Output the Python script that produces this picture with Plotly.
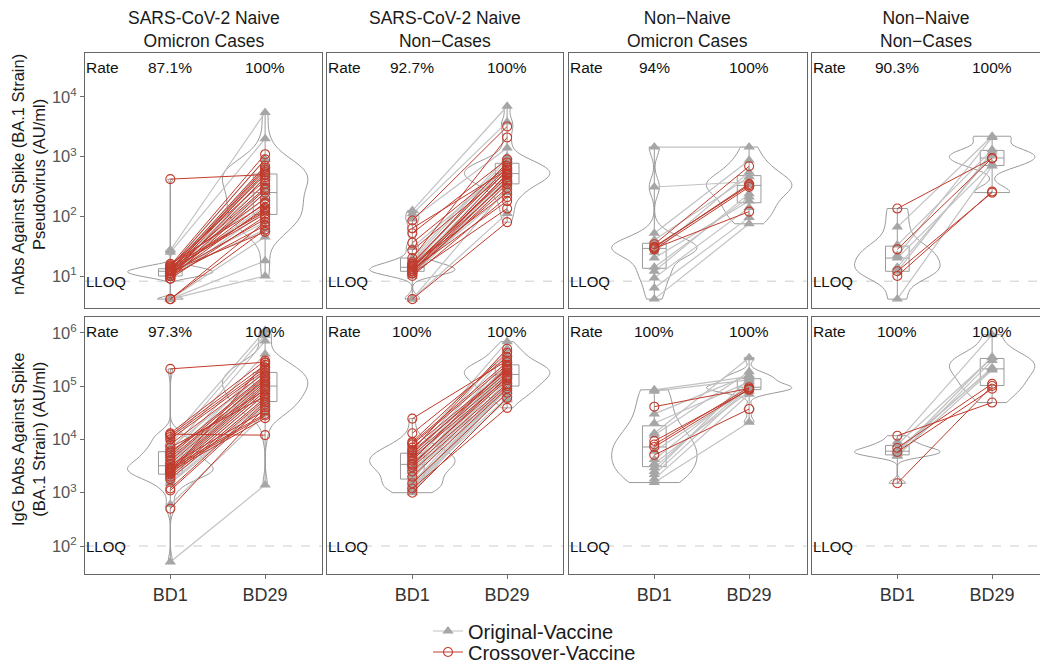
import numpy as np
import plotly.graph_objects as go

# ---------------- data ----------------
COL_TITLES = ["SARS-CoV-2 Naive<br>Omicron Cases", "SARS-CoV-2 Naive<br>Non\u2212Cases",
              "Non\u2212Naive<br>Omicron Cases", "Non\u2212Naive<br>Non\u2212Cases"]
ROW_TITLES = ["nAbs Against Spike (BA.1 Strain)<br>Pseudovirus (AU/ml)",
              "IgG bAbs Against Spike<br>(BA.1 Strain) (AU/ml)"]
TIMEPOINTS = ["BD1", "BD29"]
GROUPS = ["Original-Vaccine", "Crossover-Vaccine"]
LLOQ = [8.2, 100]
RATE_BD1 = [["87.1%", "92.7%", "94%", "90.3%"], ["97.3%", "100%", "100%", "100%"]]
RATE_BD29 = [["100%", "100%", "100%", "100%"], ["100%", "100%", "100%", "100%"]]
YTICKS = [[1, 2, 3, 4], [2, 3, 4, 5, 6]]

# Row 1 (nAbs) -- col 1: naive omicron cases
N1_ORIG_BD1 = [27, 25, 14, 12, 11, 13, 10, 12, 15, 11, 9, 13, 10, 4.1, 4.1, 4.1, 12, 11]
N1_ORIG_BD29 = [5500, 2000, 900, 600, 450, 350, 250, 200, 500, 150, 120, 700, 300, 10, 18, 45, 80, 60]
N1_CROSS_BD1 = [420, 15, 14, 13, 12, 12, 11, 13, 10, 15, 11, 12, 10, 9, 14, 11, 10, 12, 13, 9, 11,
                4.1, 4.1, 10, 12, 14, 16]
N1_CROSS_BD29 = [500, 1100, 900, 700, 650, 600, 550, 500, 450, 400, 350, 300, 280, 250, 200, 170,
                 140, 130, 110, 100, 90, 80, 60, 70, 55, 120, 160]
# col 2: naive non-cases
N2_ORIG_BD1 = [125, 110, 90, 20, 15, 14, 12, 13, 11, 16, 10, 4.1, 4.1, 12, 18, 30, 13, 11]
N2_ORIG_BD29 = [7000, 3800, 1400, 1000, 800, 600, 520, 450, 400, 700, 350, 300, 112, 250, 900, 650, 500, 420]
N2_CROSS_BD1 = [85, 63, 52, 36, 27, 20, 16, 15, 14, 13, 12, 11, 12, 10, 13, 11, 4.1, 15, 14, 17, 12]
N2_CROSS_BD29 = [3200, 600, 900, 700, 550, 2100, 800, 450, 500, 600, 400, 350, 300, 210, 180, 135,
                 80, 250, 380, 650, 520]
# col 3: non-naive omicron cases
N3_ORIG_BD1 = [1450, 310, 52, 40, 14, 9.3, 6.3, 4.1, 30, 25, 12, 20]
N3_ORIG_BD29 = [1450, 380, 870, 460, 210, 140, 96, 75, 340, 550, 240, 180]
N3_CROSS_BD1 = [34, 30, 28, 29, 31]
N3_CROSS_BD29 = [690, 350, 310, 120, 330]
# col 4: non-naive non-cases
N4_ORIG_BD1 = [66, 14, 4.1, 20, 22, 12, 33]
N4_ORIG_BD29 = [2200, 1070, 700, 750, 2100, 1200, 1300]
N4_CROSS_BD1 = [135, 28, 12, 10]
N4_CROSS_BD29 = [930, 950, 250, 260]

# Row 2 (IgG bAbs) -- col 1
G1_ORIG_BD1 = [50, 10000, 8000, 6000, 5000, 4500, 4000, 3500, 3200, 3000, 2800, 2500, 2200, 2000,
               1800, 1600, 1500, 3800, 2600, 600, 5500, 7000]
G1_ORIG_BD29 = [1400, 1100000, 900000, 700000, 400000, 250000, 200000, 150000, 120000, 100000, 90000,
                80000, 70000, 60000, 50000, 45000, 40000, 130000, 110000, 30000, 160000, 180000]
G1_CROSS_BD1 = [210000, 12500, 13000, 12000, 11000, 10000, 8000, 5500, 5000, 4500, 3500, 3000, 2800,
                2600, 2400, 2200, 2000, 1800, 1200, 1100, 500, 3300, 2900, 2700, 2500, 2300, 4000,
                6000, 7000]
G1_CROSS_BD29 = [280000, 12000, 300000, 250000, 220000, 200000, 180000, 160000, 150000, 130000,
                 120000, 110000, 100000, 90000, 80000, 70000, 60000, 55000, 50000, 45000, 40000,
                 35000, 30000, 28000, 25000, 270000, 140000, 85000, 65000]
# col 2
G2_ORIG_BD1 = [6000, 5000, 4500, 4000, 3500, 3000, 2500, 2200, 2000, 1800, 1500, 1300, 1200, 1100,
               1000, 3800, 2800, 1600, 1400, 5500, 4200, 3200]
G2_ORIG_BD29 = [680000, 500000, 400000, 300000, 250000, 220000, 200000, 180000, 160000, 150000,
                130000, 120000, 110000, 100000, 90000, 80000, 70000, 60000, 55000, 230000, 190000,
                170000]
G2_CROSS_BD1 = [24500, 13000, 9000, 8000, 7000, 6300, 6000, 5000, 4500, 4000, 3500, 3000, 2500,
                2000, 1500, 1200, 1000, 8500, 5500, 3300]
G2_CROSS_BD29 = [300000, 350000, 420000, 250000, 200000, 500000, 180000, 160000, 140000, 230000,
                 130000, 110000, 100000, 90000, 75000, 39000, 60000, 280000, 210000, 150000]
# col 3
G3_ORIG_BD1 = [85000, 80000, 13000, 12000, 4200, 2950, 2200, 1550, 20000, 6000, 3500, 1800, 30000, 2500]
G3_ORIG_BD29 = [150000, 130000, 340000, 185000, 110000, 100000, 95000, 21000, 120000, 90000, 80000,
                70000, 160000, 140000]
G3_CROSS_BD1 = [41000, 9300, 7200, 5100, 8000]
G3_CROSS_BD29 = [90000, 85000, 88000, 37000, 95000]
# col 4
G4_ORIG_BD1 = [9000, 8000, 6500, 5500, 5000, 4800, 6000]
G4_ORIG_BD29 = [920000, 340000, 210000, 350000, 200000, 300000, 220000]
G4_CROSS_BD1 = [11700, 6900, 1500, 5800]
G4_CROSS_BD29 = [49000, 110000, 100000, 89000]

PANELS = [
    [(N1_ORIG_BD1, N1_ORIG_BD29, N1_CROSS_BD1, N1_CROSS_BD29),
     (N2_ORIG_BD1, N2_ORIG_BD29, N2_CROSS_BD1, N2_CROSS_BD29),
     (N3_ORIG_BD1, N3_ORIG_BD29, N3_CROSS_BD1, N3_CROSS_BD29),
     (N4_ORIG_BD1, N4_ORIG_BD29, N4_CROSS_BD1, N4_CROSS_BD29)],
    [(G1_ORIG_BD1, G1_ORIG_BD29, G1_CROSS_BD1, G1_CROSS_BD29),
     (G2_ORIG_BD1, G2_ORIG_BD29, G2_CROSS_BD1, G2_CROSS_BD29),
     (G3_ORIG_BD1, G3_ORIG_BD29, G3_CROSS_BD1, G3_CROSS_BD29),
     (G4_ORIG_BD1, G4_ORIG_BD29, G4_CROSS_BD1, G4_CROSS_BD29)],
]

# ---------------- styling / layout ----------------
W, H = 1040, 667
XD = [(85, 322), (327, 563), (569, 806.5), (812, 1040)]
YD = [(53, 308), (317, 574)]
YR = [(0.464, 4.737), (1.475, 6.295)]
PX_PER_UNIT = (322 - 85) / 2.5
GRAY_MK = "#a6a6a6"
GRAY_LN = "#c2c2c2"
RED = "#c23b2c"
OUTLINE = "#9a9a9a"
FONT = "Liberation Sans, Arial, sans-serif"


def nrd0(v):
    v = np.asarray(v, dtype=float)
    n = len(v)
    sd = np.std(v, ddof=1)
    q75, q25 = np.percentile(v, [75, 25])
    lo = min(sd, (q75 - q25) / 1.34)
    if lo <= 0:
        lo = sd if sd > 0 else 1.0
    return 0.9 * lo * n ** -0.2


def segments(b1, b29):
    xs, ys = [], []
    for a, b in zip(b1, b29):
        xs += [0, 1, None]
        ys += [np.log10(a), np.log10(b), None]
    return xs, ys


fig = go.Figure()
layout = {}
annotations = []
shapes = []

for r in range(2):
    for c in range(4):
        k = r * 4 + c + 1
        xa = "x" if k == 1 else f"x{k}"
        ya = "y" if k == 1 else f"y{k}"
        ob1, ob29, cb1, cb29 = PANELS[r][c]
        for t, vals in enumerate([ob1 + cb1, ob29 + cb29]):
            lv = np.log10(np.asarray(vals, dtype=float))
            fig.add_trace(go.Violin(
                x=[t] * len(lv), y=lv, xaxis=xa, yaxis=ya, width=0.9, scalemode="width",
                spanmode="hard", bandwidth=nrd0(lv), line=dict(color=OUTLINE, width=1),
                fillcolor="rgba(0,0,0,0)", points=False, box_visible=False,
                meanline_visible=False, hoverinfo="skip", showlegend=False))
            fig.add_trace(go.Box(
                x=[t] * len(lv), y=lv, xaxis=xa, yaxis=ya, width=0.25, boxpoints=False,
                whiskerwidth=0, quartilemethod="linear", line=dict(color=OUTLINE, width=1),
                fillcolor="rgba(0,0,0,0)", hoverinfo="skip", showlegend=False))
        xs, ys = segments(ob1, ob29)
        fig.add_trace(go.Scatter(
            x=xs, y=ys, xaxis=xa, yaxis=ya, mode="lines+markers", name=GROUPS[0],
            line=dict(color=GRAY_LN, width=1.2),
            marker=dict(symbol="triangle-up", size=10, color=GRAY_MK),
            showlegend=(k == 1), legend="legend", hoverinfo="skip"))
        xs, ys = segments(cb1, cb29)
        fig.add_trace(go.Scatter(
            x=xs, y=ys, xaxis=xa, yaxis=ya, mode="lines+markers", name=GROUPS[1],
            line=dict(color=RED, width=1),
            marker=dict(symbol="circle-open", size=9, color=RED, line=dict(width=1.1, color=RED)),
            showlegend=(k == 1), legend="legend2", hoverinfo="skip"))

        x0, x1 = XD[c]
        xmax = -0.9 + (x1 - x0) / PX_PER_UNIT
        y0, y1 = YD[r]
        bottom = r == 1
        left = c == 0
        layout["xaxis" if k == 1 else f"xaxis{k}"] = dict(
            domain=[x0 / W, x1 / W], range=[-0.9, xmax], anchor=ya,
            tickvals=[0, 1], ticktext=TIMEPOINTS, showticklabels=bottom,
            ticks="outside" if bottom else "", ticklen=4, tickcolor="#6e6e6e",
            tickfont=dict(size=18, color="#333333"),
            showgrid=False, zeroline=False, showline=True, mirror=True,
            linecolor="#666666", linewidth=1)
        layout["yaxis" if k == 1 else f"yaxis{k}"] = dict(
            domain=[1 - y1 / H, 1 - y0 / H], range=list(YR[r]), anchor=xa,
            tickvals=YTICKS[r], ticktext=[f"10<sup>{v}</sup>" for v in YTICKS[r]],
            showticklabels=left, ticks="outside" if left else "", ticklen=4,
            tickcolor="#6e6e6e", tickfont=dict(size=16.5, color="#555555"),
            showgrid=False, zeroline=False, showline=True, mirror=True,
            linecolor="#666666", linewidth=1)

        # LLOQ line and label
        shapes.append(dict(type="line", xref=f"{xa} domain", yref=ya, x0=0, x1=1,
                           y0=np.log10(LLOQ[r]), y1=np.log10(LLOQ[r]),
                           line=dict(color="#cccccc", width=1, dash="dash"), layer="below"))
        annotations.append(dict(text="LLOQ", xref=f"{xa} domain", yref=ya, x=-0.005, y=np.log10(LLOQ[r]),
                                xanchor="left", yanchor="middle", showarrow=False,
                                font=dict(size=15, color="#111111")))
        # Rate texts
        ytxt = 0.945
        annotations.append(dict(text="Rate", xref=f"{xa} domain", yref=f"{ya} domain", x=-0.005, y=ytxt,
                                xanchor="left", yanchor="middle", showarrow=False,
                                font=dict(size=15.5, color="#111111")))
        for t, txt in enumerate([RATE_BD1[r][c], RATE_BD29[r][c]]):
            annotations.append(dict(text=txt, xref=xa, yref=f"{ya} domain", x=t, y=ytxt,
                                    xanchor="center", yanchor="middle", showarrow=False,
                                    font=dict(size=15.5, color="#111111")))

# column titles
for c in range(4):
    x0, x1 = XD[c]
    xc = (x0 + min(x1, x0 + 237)) / 2
    annotations.append(dict(text=COL_TITLES[c], xref="paper", yref="paper", x=xc / W, y=1 - 53 / H,
                            xanchor="center", yanchor="bottom", showarrow=False,
                            font=dict(size=17.5, color="#1a1a1a")))
# row titles
for r, yc in enumerate([175, 440]):
    annotations.append(dict(text=ROW_TITLES[r], xref="paper", yref="paper", x=28 / W, y=1 - yc / H,
                            xanchor="center", yanchor="middle", textangle=-90, showarrow=False,
                            font=dict(size=16.5, color="#1a1a1a")))

LEG = dict(x=428 / W, xanchor="left", yanchor="middle", font=dict(size=20, color="#1a1a1a"),
           bgcolor="rgba(0,0,0,0)", tracegroupgap=0)

fig.update_layout(
    width=W, height=H, margin=dict(l=0, r=0, t=0, b=0, autoexpand=False),
    paper_bgcolor="white", plot_bgcolor="white",
    font=dict(family=FONT, color="#1a1a1a"),
    violinmode="overlay", boxmode="overlay",
    annotations=annotations, shapes=shapes,
    legend=dict(LEG, y=1 - 631 / H),
    legend2=dict(LEG, y=1 - 652 / H),
    **layout)

fig.write_html("out.html")
